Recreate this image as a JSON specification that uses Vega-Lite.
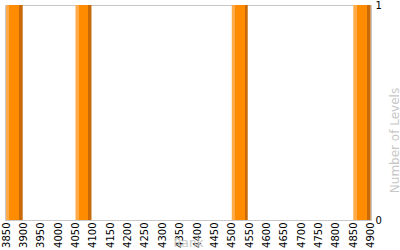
{
  "$schema": "https://vega.github.io/schema/vega-lite/v6.json",
  "width": 366,
  "height": 215,
  "autosize": {"type": "none"},
  "padding": {"left": 5, "top": 5, "right": 29, "bottom": 30},
  "background": "white",
  "config": {
    "view": {"stroke": "#c8c8c8", "strokeWidth": 1},
    "font": "DejaVu Sans"
  },
  "data": {
    "values": [
      {"start": 3850, "end": 3898, "levels": 1},
      {"start": 4050, "end": 4096, "levels": 1},
      {"start": 4500, "end": 4546, "levels": 1},
      {"start": 4850, "end": 4900, "levels": 1}
    ]
  },
  "mark": {
    "type": "rect",
    "color": {
      "gradient": "linear",
      "x1": 0, "y1": 0, "x2": 1, "y2": 0,
      "stops": [
        {"offset": 0, "color": "#ffab4a"},
        {"offset": 0.2, "color": "#ffab4a"},
        {"offset": 0.2, "color": "#ff8c00"},
        {"offset": 0.8, "color": "#ff8c00"},
        {"offset": 0.8, "color": "#c86a0a"},
        {"offset": 1, "color": "#c86a0a"}
      ]
    }
  },
  "encoding": {
    "x": {
      "field": "start",
      "type": "quantitative",
      "scale": {"domain": [3847, 4901], "nice": false, "zero": false},
      "axis": {
        "title": "Rank",
        "titleColor": "#c8c8c8",
        "titleFont": "DejaVu Sans",
        "titleFontSize": 12,
        "titleFontWeight": "normal",
        "titleBaseline": "top",
        "titleY": 17,
        "values": [3850, 3900, 3950, 4000, 4050, 4100, 4150, 4200, 4250, 4300, 4350, 4400, 4450, 4500, 4550, 4600, 4650, 4700, 4750, 4800, 4850, 4900],
        "labelAngle": -90,
        "labelAlign": "right",
        "labelBaseline": "middle",
        "labelFontSize": 10,
        "labelColor": "black",
        "labelPadding": 2,
        "labelOverlap": false,
        "labelFlush": false,
        "ticks": false,
        "domainColor": "#c8c8c8",
        "grid": false,
        "format": "d"
      }
    },
    "x2": {"field": "end"},
    "y": {
      "field": "levels",
      "type": "quantitative",
      "scale": {"domain": [0, 1], "nice": false},
      "axis": {
        "orient": "right",
        "title": "Number of Levels",
        "titleColor": "#c8c8c8",
        "titleFont": "DejaVu Sans",
        "titleFontSize": 12,
        "titleFontWeight": "normal",
        "titleAngle": 270,
        "titleAlign": "center",
        "titleBaseline": "middle",
        "titleX": 23,
        "titleY": 135,
        "values": [0, 1],
        "labelFontSize": 10,
        "labelColor": "black",
        "labelPadding": 4,
        "labelFlush": false,
        "ticks": false,
        "domain": false,
        "grid": false,
        "format": "d"
      }
    },
    "y2": {"datum": 0}
  }
}
